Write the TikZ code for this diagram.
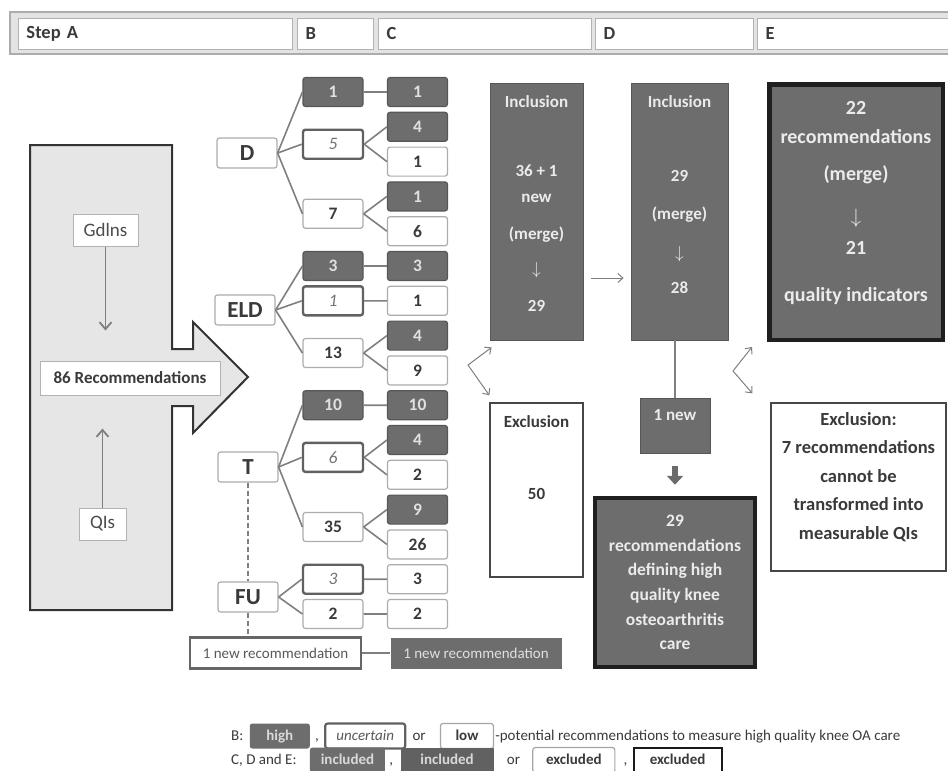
\documentclass[tikz,border=0pt]{standalone}
\usepackage{fontspec}
\setmainfont{Carlito}
\usetikzlibrary{arrows.meta,positioning}

\definecolor{boxgray}{HTML}{6D6D6D}
\definecolor{linegray}{HTML}{7F7F7F}
\definecolor{inkgray}{HTML}{3A3A3A}
\definecolor{palegray}{HTML}{E6E6E6}

\begin{document}
\begin{tikzpicture}[x=1pt, y=-1pt,
    cell/.style={draw=gray!65, fill=white, line width=1.2pt, rounded corners=2.5pt,
        minimum width=60pt, minimum height=29pt, inner sep=0pt, text=inkgray,
        font=\fontsize{17.5}{20}\selectfont\bfseries},
    highcell/.style={cell, fill=boxgray, draw=boxgray!80!black, text=white!88!black},
    uncell/.style={cell, draw=black!62, line width=2.4pt, text=black!55,
        font=\fontsize{17.5}{20}\selectfont\itshape},
    lowcell/.style={cell},
    region/.style={cell, minimum height=30pt, font=\fontsize{23}{26}\selectfont\bfseries},
    branch/.style={draw=linegray, line width=1.6pt},
    hcell/.style={anchor=west, draw=gray!60, fill=white, line width=1pt, minimum height=31pt,
        inner xsep=8pt, align=left, text=inkgray, font=\fontsize{18.5}{21}\selectfont\bfseries},
    srcbox/.style={draw=gray!60, fill=white, line width=1pt, minimum height=32pt, inner sep=0pt,
        text=black!70, font=\fontsize{19}{22}\selectfont},
    darkbox/.style={draw=boxgray!80!black, fill=boxgray, line width=0.8pt, inner sep=0pt},
    finalbox/.style={draw=black!88, fill=boxgray, line width=4.5pt, inner sep=0pt,
        text=white!92!black, align=center},
    exclbox/.style={draw=black!72, fill=white, line width=1.3pt, inner sep=0pt},
    intext/.style={inner sep=0pt, align=center, text=white!92!black,
        font=\fontsize{17}{26}\selectfont\bfseries},
    extext/.style={intext, text=inkgray},
    newrec/.style={minimum width=171pt, minimum height=31pt, inner sep=0pt,
        font=\fontsize{15}{18}\selectfont},
    thinarrow/.style={draw=linegray, line width=1pt, -{Straight Barb[length=5pt,width=9pt]}},
    srcarrow/.style={draw=linegray, line width=1.8pt, -{Straight Barb[length=7pt,width=12pt]}},
    blockarrow/.style={draw=black!58, line width=6pt, -{Triangle[length=9pt,width=16pt]}},
    lgtext/.style={inner sep=0pt, text height=11pt, text depth=3pt, text=inkgray,
        font=\fontsize{15}{17}\selectfont},
    lgbox/.style={minimum height=25pt, inner sep=0pt, text height=11pt, text depth=3pt,
        rounded corners=2.5pt, font=\fontsize{15}{17}\selectfont\bfseries}
]
\useasboundingbox (0,0) rectangle (948,771);

% Header
\draw[fill=gray!22, draw=gray!65, line width=1.5pt] (10,12) rectangle (960,54);
\node[hcell, text width=258pt] (hA) at (18,33.5) {Step A};
\node[hcell, text width=60pt] (hB) at (297,33.5) {B};
\node[hcell, text width=197pt] (hC) at (378,33.5) {C};
\node[hcell, text width=142pt] (hD) at (595,33.5) {D};
\node[hcell, text width=182pt] (hE) at (757,33.5) {E};

% Step A
\draw[fill=palegray, draw=black!80, line width=2pt]
    (30,145) -- (172,145) -- (172,349) -- (193,349) -- (193,322) -- (248,377)
    -- (193,433) -- (193,406) -- (172,406) -- (172,610) -- (30,610) -- cycle;
\node[srcbox, minimum width=65pt] (gdl) at (105.5,230) {Gdlns};
\node[srcbox, minimum width=47pt] (qis) at (102.5,524) {QIs};
\node[srcbox, minimum width=180pt, minimum height=34pt, text=inkgray,
    font=\fontsize{17}{20}\selectfont\bfseries] (rec) at (130,378) {86 Recommendations};
\draw[srcarrow, shorten >=30pt] (gdl.south) -- (gdl.south |- rec.north);
\draw[srcarrow, shorten >=33pt] (qis.north) -- (qis.north |- rec.south);

% Step C
\foreach \st/\v [count=\i] in {highcell/1, highcell/4, lowcell/1, highcell/1, lowcell/6,
    highcell/3, lowcell/1, highcell/4, lowcell/9, highcell/10, highcell/4, lowcell/2,
    highcell/9, lowcell/26, lowcell/3, lowcell/2}
    \node[\st] (c\i) at (417.5,{92+34.8*(\i-1)}) {\v};

% Step B
\node[highcell] (b1) at (333,92) {1};
\node[uncell] (b2) at (333,144.2) {5};
\node[lowcell] (b3) at (333,213.8) {7};
\node[highcell] (b4) at (333,266) {3};
\node[uncell] (b5) at (333,300.8) {1};
\node[lowcell] (b6) at (333,353) {13};
\node[highcell] (b7) at (333,405.2) {10};
\node[uncell] (b8) at (333,457.4) {6};
\node[lowcell] (b9) at (333,527) {35};
\node[uncell] (b10) at (333,579.2) {3};
\node[lowcell] (b11) at (333,614) {2};

% Domains
\node[region] (rD) at (247,153) {D};
\node[region] (rELD) at (245,310) {ELD};
\node[region] (rT) at (248,467) {T};
\node[region] (rFU) at (248,597) {FU};

\foreach \r/\b in {rD/b1, rD/b2, rD/b3, rELD/b4, rELD/b5, rELD/b6,
    rT/b7, rT/b8, rT/b9, rFU/b10, rFU/b11}
    \draw[branch] (\r.east) -- (\b.west);
\foreach \b/\c in {b1/c1, b2/c2, b2/c3, b3/c4, b3/c5, b4/c6, b5/c7, b6/c8, b6/c9,
    b7/c10, b8/c11, b8/c12, b9/c13, b9/c14, b10/c15, b11/c16}
    \draw[branch] (\b.east) -- (\c.west);

% New recommendation
\node[newrec, draw=black!60, line width=2.5pt, fill=white, text=black!65] (nrB) at (275.5,653) {1 new recommendation};
\node[newrec, fill=boxgray, text=white!88!black] (nrC) at (476,653) {1 new recommendation};
\draw[branch] (nrB.east) -- (nrC.west);
\draw[branch, line width=1.2pt, dash pattern=on 5pt off 3pt] (rT.south) -- (rFU.north);
\draw[branch, line width=1.2pt, dash pattern=on 5pt off 3pt] (rFU.south) -- (rFU.south |- nrB.north);

% Step C results
\node[darkbox, minimum width=93pt, minimum height=257pt] (incl1) at (536.5,211.5) {};
\node[intext, anchor=north] (incl1txt) at (536.5,95)
    {Inclusion\\[43pt]36 + 1\\new\\[11pt](merge)\\[9pt]$\downarrow$\\[11pt]29};
\node[exclbox, minimum width=93pt, minimum height=174pt] (excl1) at (536.5,490) {};
\node[extext, anchor=north] (excl1txt) at (536.5,415) {Exclusion\\[46pt]50};
\coordinate (forkC) at (468,365);
\draw[thinarrow] (forkC) -- ([shift={(2,7)}]incl1.south west);
\draw[thinarrow] (forkC) -- ([shift={(0,-7)}]excl1.north west);

% Step D
\node[darkbox, minimum width=97pt, minimum height=257pt] (incl2) at (679.5,211.5) {};
\node[intext, anchor=north] (incl2txt) at (679.5,95)
    {Inclusion\\[48pt]29\\[12pt](merge)\\[13pt]$\downarrow$\\[9pt]28};
\draw[thinarrow, shorten <=8pt, shorten >=7pt] (incl1.east |- 0,278) -- (incl2.west |- 0,278);
\node[darkbox, minimum width=70pt, minimum height=55pt] (new1) at (675,425.5) {};
\node[intext] (new1txt) at (675,415) {1 new};
\draw[branch] (new1.north) -- (new1.north |- incl2.south);
\node[finalbox, minimum width=160pt, minimum height=169pt,
    font=\fontsize{17.5}{24.6}\selectfont\bfseries] (final) at (675,582.5)
    {29\\recommendations\\defining high\\quality knee\\osteoarthritis\\care};
\draw[blockarrow, shorten <=13pt, shorten >=11pt] (new1.south) -- (final.north);

% Step E
\node[finalbox, minimum width=173.5pt, minimum height=255.5pt] (etop) at (856,212) {};
\node[intext, anchor=north, font=\fontsize{20}{29}\selectfont\bfseries] (etoptxt) at (856,101)
    {22\\recommendations\\[8pt](merge)\\[14pt]$\downarrow$\\[2pt]21\\[18pt]quality indicators};
\node[exclbox, minimum width=175pt, minimum height=168pt] (eexcl) at (858.5,487) {};
\node[extext, anchor=north, font=\fontsize{18.5}{28.5}\selectfont\bfseries] (eexcltxt) at (858.5,412)
    {Exclusion:\\7 recommendations\\cannot be\\transformed into\\measurable QIs};
\coordinate (forkE) at (733,371);
\draw[thinarrow] (forkE) -- ([shift={(-15,5)}]etop.south west);
\draw[thinarrow] (forkE) -- ([shift={(-18,-9)}]eexcl.north west);

% Legend
\node[lgtext, anchor=west] (lgB) at (231,736) {B:};
\node[lgbox, fill=boxgray, text=white!85!black, minimum width=60pt, right=6pt of lgB] (lgHigh) {high};
\node[lgtext, right=5pt of lgHigh] (lgCa) {,};
\node[lgbox, draw=black!62, line width=2.2pt, fill=white, text=black!65, minimum width=80pt,
    font=\fontsize{15}{17}\selectfont\itshape, right=5pt of lgCa] (lgUn) {uncertain};
\node[lgtext, right=6pt of lgUn] (lgOr) {or};
\node[lgbox, draw=gray!70, line width=1.2pt, fill=white, text=inkgray, minimum width=53pt,
    right=14pt of lgOr] (lgLow) {low};
\node[lgtext, right=1pt of lgLow] (lgPot) {-potential recommendations to measure high quality knee OA care};

\node[lgtext, anchor=west] (lgCDE) at (231,760) {C, D and E:};
\node[lgbox, fill=boxgray, text=white!85!black, minimum width=75pt, right=13pt of lgCDE] (lgInc1) {included};
\node[lgtext, right=4pt of lgInc1] (lgCb) {,};
\node[lgbox, fill=black!62, text=white!85!black, minimum width=93pt, rounded corners=0pt,
    right=7pt of lgCb] (lgInc2) {included};
\node[lgtext, right=13pt of lgInc2] (lgOr2) {or};
\node[lgbox, draw=gray!70, line width=1.2pt, fill=white, text=inkgray, minimum width=82pt,
    right=12pt of lgOr2] (lgExc1) {excluded};
\node[lgtext, right=8pt of lgExc1] (lgCc) {,};
\node[lgbox, draw=black!90, line width=2pt, fill=white, text=inkgray, minimum width=88pt,
    rounded corners=0pt, right=5pt of lgCc] (lgExc2) {excluded};

\end{tikzpicture}
\end{document}
